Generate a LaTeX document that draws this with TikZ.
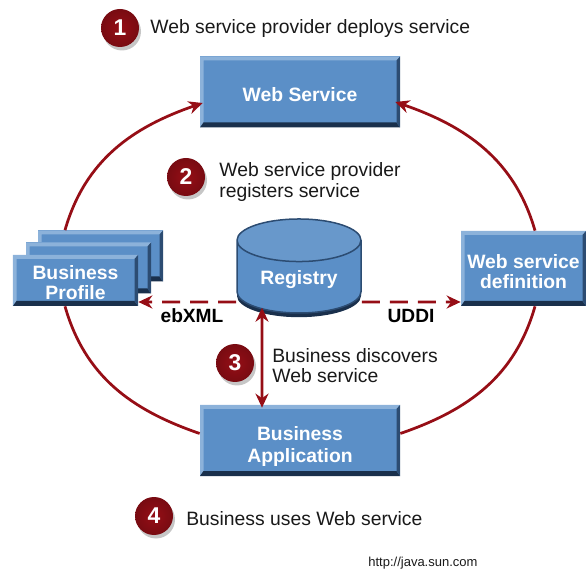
\documentclass[tikz,border=0pt]{standalone}
\usepackage{fontspec}
\setmainfont{Liberation Sans}
\usetikzlibrary{calc,shadows,shapes.geometric,arrows.meta}
\definecolor{boxblue}{RGB}{91,143,199}
\definecolor{boxlight}{RGB}{140,178,218}
\definecolor{boxdark}{RGB}{26,48,76}
\definecolor{boxside}{RGB}{44,76,114}
\definecolor{flowred}{RGB}{150,14,22}
\tikzset{
  boxtext/.style={text=white,font=\fontsize{11}{12.6}\selectfont\bfseries,align=center},
  bluebox/.style={boxtext,fill=boxblue,inner sep=0pt,
    path picture={
      \fill[boxlight] (path picture bounding box.north west) -- (path picture bounding box.north east)
        -- ++(-.07,-.08) -| ($(path picture bounding box.south west)+(.07,.1)$) -- (path picture bounding box.south west) -- cycle;
      \fill[boxdark] (path picture bounding box.south west) -- (path picture bounding box.south east)
        -- ++(-.07,.1) -- ($(path picture bounding box.south west)+(.07,.1)$) -- cycle;
      \fill[boxside] (path picture bounding box.north east) -- (path picture bounding box.south east)
        -- ++(-.07,.1) -- ($(path picture bounding box.north east)+(-.07,-.08)$) -- cycle;
    }},
  steptext/.style={font=\fontsize{11}{11.4}\selectfont,text=black!90,align=left,anchor=west,inner sep=0pt},
  badge/.style={circle,minimum size=.76cm,inner sep=0pt,text=white,font=\fontsize{13}{14}\selectfont\bfseries,
    inner color=flowred,outer color=flowred!80!black,
    drop shadow={shadow xshift=.04cm,shadow yshift=-.07cm,opacity=.45}},
  flow/.style={flowred,line width=.055cm},
  flowtip/.style={flow,-{Stealth[length=.28cm,width=.26cm]}},
  flowboth/.style={flow,{Stealth[length=.28cm,width=.26cm]}-{Stealth[length=.28cm,width=.26cm]}},
  drum/.style={boxtext,cylinder,shape border rotate=90,aspect=.55,minimum width=2.48cm,minimum height=1.88cm,inner sep=0pt,
    cylinder uses custom fill}
}
\begin{document}
\begin{tikzpicture}
\useasboundingbox (0,0) rectangle (11.72,11.4);
%Boxes
\node[bluebox,minimum width=4cm,minimum height=1.42cm] (service) at (6,9.56) {\rule{0pt}{11.4pt}Web Service};
\node[bluebox,minimum width=4cm,minimum height=1.42cm] (application) at (6,2.59) {\rule{0pt}{14.5pt}Business\\Application};
\node[bluebox,minimum width=2.5cm,minimum height=1.5cm] (definition) at (10.47,6.03) {\rule{0pt}{11.5pt}Web service\\[-1.5pt]definition};
\node[bluebox,minimum width=2.5cm,minimum height=1.02cm] (profilec) at (2.01,6.28) {};
\node[bluebox,minimum width=2.5cm,minimum height=1.02cm] (profileb) at (1.77,6.04) {};
\node[bluebox,minimum width=2.5cm,minimum height=1.02cm] (profile) at (1.51,5.79) {\rule{0pt}{10.5pt}Business\\[-1.5pt]Profile};
%Registry
\node[drum,cylinder body fill=boxdark,cylinder end fill=boxdark] (registrybase) at (5.98,5.78) {\phantom{\raisebox{-.38cm}{Registry}}};
\node[drum,cylinder body fill=boxblue,cylinder end fill=boxblue!92!white,
  draw=boxside,line width=.03cm] (registry) at (5.98,5.86) {\raisebox{-.38cm}{Registry}};
%Ring
\draw[flowtip] ([xshift=-.71cm]profilec.north) to[out=74,in=199] ([xshift=.06cm,yshift=-.22cm]service.west);
\draw[flowtip] ([xshift=.23cm]definition.north) to[out=106,in=-19] ([xshift=-.1cm,yshift=-.2cm]service.east);
\draw[flow] ([xshift=-.21cm]profile.south) to[out=-74,in=161] ([yshift=.14cm]application.west);
\draw[flow] ([xshift=.23cm]definition.south) to[out=-106,in=19] ([yshift=.14cm]application.east);
%Registry links
\draw[flowtip,dashed,dash pattern=on .36cm off .2cm] ([yshift=-.5cm]registry.west) -- ([yshift=-.43cm]profile.east);
\draw[flowtip,dashed,dash pattern=on .36cm off .2cm] ([yshift=-.5cm]registry.east) -- ([yshift=-.67cm]definition.west);
\draw[flowboth] ([xshift=-.74cm,yshift=.12cm]registry.south) -- ([xshift=-.76cm,yshift=-.06cm]application.north);
\node[font=\fontsize{10.9}{12}\selectfont\bfseries] (ebxml) at (3.84,5.08) {ebXML};
\node[font=\fontsize{10.9}{12}\selectfont\bfseries] (uddi) at (8.22,5.08) {UDDI};
%Steps
\node[badge] (one) at (2.4,10.84) {1};
\node[badge] (two) at (3.72,7.86) {2};
\node[badge] (three) at (4.7,4.14) {3};
\node[badge] (four) at (3.08,1.08) {4};
\node[steptext] (onetext) at (3,10.83) {Web service provider deploys service};
\node[steptext] (twotext) at (4.38,7.76) {Web service provider\\registers service};
\node[steptext] (threetext) at (5.44,4.08) {Business discovers\\Web service};
\node[steptext] (fourtext) at (3.72,1.02) {Business uses Web service};
\node[steptext,font=\fontsize{7.4}{9}\selectfont] (source) at (7.36,.13) {http://java.sun.com};
\end{tikzpicture}
\end{document}
